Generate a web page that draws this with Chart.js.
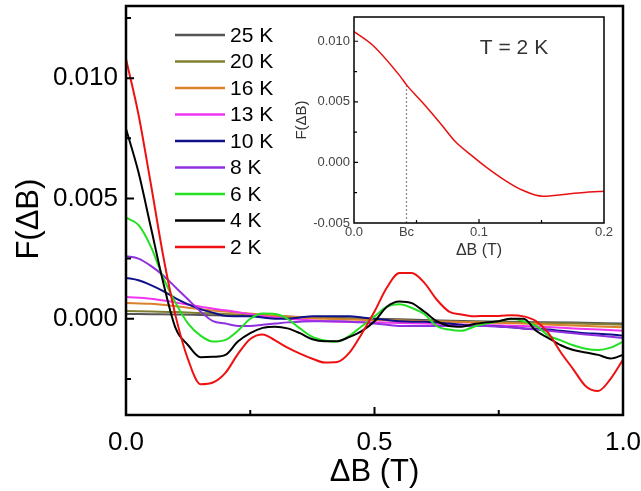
<!DOCTYPE html>
<html>
<head>
<meta charset="utf-8">
<script src="https://cdn.jsdelivr.net/npm/chart.js@4.4.1/dist/chart.umd.min.js"></script>
<style>
  html, body { margin: 0; padding: 0; background: #fff; }
  #wrap { position: relative; width: 641px; height: 491px; }
  #main { position: absolute; left: 0; top: 0; }
  #inset { position: absolute; left: 280px; top: 8px; }
</style>
</head>
<body>
<div id="wrap">
  <canvas id="main" width="641" height="491"></canvas>
  <canvas id="inset" width="340" height="260"></canvas>
</div>
<script>
// ΔB grid (T) for the low-temperature curves
const dB = [0, 0.025, 0.05, 0.075, 0.1, 0.125, 0.15, 0.175, 0.2, 0.225,
            0.25, 0.275, 0.3, 0.325, 0.35, 0.375, 0.4, 0.425, 0.45, 0.475,
            0.5, 0.525, 0.55, 0.575, 0.6, 0.625, 0.65, 0.675, 0.7, 0.725,
            0.75, 0.775, 0.8, 0.825, 0.85, 0.875, 0.9, 0.925, 0.95, 0.975, 1.0];

const f2K = [0.0108, 0.0085, 0.0056, 0.0026, 0.0001, -0.0017, -0.00272, -0.00265, -0.00225, -0.00147,
             -0.00084, -0.00065, -0.0009, -0.0012, -0.00145, -0.00166, -0.00182, -0.0018, -0.0014, -0.0006,
             0.0003, 0.0013, 0.0019, 0.0019, 0.0015, 0.0008, 0.0003, 0.00018, 0.0001, 0.00012,
             0.00012, 0.00015, 0.0001, -0.0001, -0.0006, -0.0014, -0.0021, -0.0028, -0.003, -0.0025, -0.0017];

const f4K = [0.0079, 0.0061, 0.0038, 0.0015, -0.0004, -0.0011, -0.0016, -0.00158, -0.0015, -0.00095,
             -0.0006, -0.00038, -0.00033, -0.0004, -0.0006, -0.00085, -0.00093, -0.00093, -0.00075, -0.0005,
             -0.0001, 0.0005, 0.00072, 0.00065, 0.0003, -0.0001, -0.0003, -0.00033, -0.00022, -0.00015,
             -0.0001, 0.0, 0.0, -0.0005, -0.0008, -0.0011, -0.0013, -0.0014, -0.0015, -0.00165, -0.0015];

const f6K = [0.0042, 0.0039, 0.0030, 0.0017, 0.00065, -0.0002, -0.0007, -0.00095, -0.00088, -0.0005,
             0.0, 0.00022, 0.0002, 0.0, -0.0004, -0.00075, -0.0009, -0.00095, -0.0007, -0.0003,
             0.0001, 0.0005, 0.0006, 0.00045, 0.0002, -0.0003, -0.00045, -0.0005, -0.00033, -0.0002,
             -0.0001, 0.0, -0.0001, -0.0003, -0.0007, -0.0009, -0.0011, -0.00125, -0.0013, -0.0012, -0.00095];

const f8K = [0.0026, 0.0025, 0.0022, 0.0018, 0.0013, 0.0008, 0.0003, -0.0001, -0.0002, -0.0003,
             -0.0003, -0.00025, -0.0002, -0.00015, -0.00012, -0.0001, -0.0001, -0.0001, -0.00012, -0.00015,
             -0.0002, -0.00025, -0.0003, -0.0003, -0.0003, -0.0003, -0.0003, -0.0003, -0.0003, -0.0003,
             -0.00032, -0.00035, -0.0004, -0.00045, -0.0005, -0.00055, -0.0006, -0.00065, -0.0007, -0.00075, -0.0008];

const f10K = [0.0017, 0.0016, 0.0014, 0.00115, 0.00085, 0.0006, 0.0004, 0.00025, 0.00012, 0.0001,
              0.0001, 0.00005, 0.0, 0.0, 0.00005, 0.0001, 0.0001, 0.0001, 0.0001, 0.00005,
              0.0, -0.00005, -0.0001, -0.00012, -0.00012, -0.00015, -0.0002, -0.00025, -0.0003, -0.0003,
              -0.00032, -0.00035, -0.0004, -0.00042, -0.00045, -0.0005, -0.00055, -0.0006, -0.00062, -0.00065, -0.0007];

// coarser grid for the nearly flat high-temperature curves
const dBCoarse = [0, 0.05, 0.1, 0.15, 0.2, 0.3, 0.4, 0.5, 0.6, 0.7, 0.8, 0.9, 1.0];
const f13K = [0.0009, 0.00083, 0.00068, 0.0005, 0.00035, 0.00005, -0.0001, -0.00015, -0.0002, -0.00025, -0.0003, -0.0004, -0.0005];
const f16K = [0.00066, 0.00062, 0.00052, 0.0004, 0.0003, 0.00013, 0.0, -0.00005, -0.0001, -0.00015, -0.0002, -0.00028, -0.00035];
const f20K = [0.00032, 0.0003, 0.00028, 0.00024, 0.0002, 0.0001, 0.00003, -0.00003, -0.0001, -0.00013, -0.00017, -0.0002, -0.00025];
const f25K = [0.0002, 0.00019, 0.00018, 0.00016, 0.00014, 0.0001, 0.00005, 0.0, -0.00005, -0.0001, -0.00013, -0.00016, -0.0002];

// inset: T = 2 K over 0 – 0.2 T
const dBInset = [0, 0.015, 0.037, 0.042, 0.055, 0.07, 0.081, 0.093, 0.106, 0.122, 0.135, 0.151, 0.17, 0.186, 0.2];
const fInset  = [0.0108, 0.00967, 0.0071, 0.0064, 0.00492, 0.00311, 0.00172, 0.00066, -0.00041, -0.00156, -0.0023, -0.00279, -0.00262, -0.00246, -0.00238];
const BC = 0.042;
const BC_F = 0.0064;

// axis ticks
const X_TICKS = [0, 0.5, 1.0];
const X_MINOR = [0.25, 0.75];
const Y_TICKS = [0, 0.005, 0.010];
const Y_MINOR = [-0.0025, 0.0025, 0.0075, 0.0125];
const INSET_X_TICKS = [0, BC, 0.1, 0.2];
const INSET_X_MAJOR = [0.1];
const INSET_X_MINOR = [0.05, 0.15];
const INSET_Y_TICKS = [-0.005, 0, 0.005, 0.010];
const INSET_Y_MAJOR = [0, 0.005, 0.010];
const INSET_Y_MINOR = [-0.0025, 0.0025, 0.0075];

const FONT = "'Liberation Sans', Arial, Helvetica, sans-serif";
Chart.defaults.font.family = FONT;
Chart.defaults.color = '#000';

const pts = (xs, ys) => xs.map((x, i) => ({ x: x, y: ys[i] }));

// first entry is drawn on top
const series = [
  { label: '2 K',  data: pts(dB, f2K),        color: '#ee1111' },
  { label: '4 K',  data: pts(dB, f4K),        color: '#000000' },
  { label: '6 K',  data: pts(dB, f6K),        color: '#22e022' },
  { label: '8 K',  data: pts(dB, f8K),        color: '#9030e0' },
  { label: '10 K', data: pts(dB, f10K),       color: '#10108a' },
  { label: '13 K', data: pts(dBCoarse, f13K), color: '#f035f0' },
  { label: '16 K', data: pts(dBCoarse, f16K), color: '#d9822b' },
  { label: '20 K', data: pts(dBCoarse, f20K), color: '#808030' },
  { label: '25 K', data: pts(dBCoarse, f25K), color: '#555555' }
];

// keep the plot area fixed: no extra room for overhanging tick labels
const fixW = w => s => { s.width = w; s.paddingTop = 0; s.paddingBottom = 0; };
const fixH = h => s => { s.height = h; s.paddingLeft = 0; s.paddingRight = 0; };

// boxed frame with inward tick marks
const frameTicks = {
  id: 'frameTicks',
  afterDatasetsDraw(chart, args, o) {
    const { ctx, chartArea: a } = chart;
    const xs = chart.scales.x, ys = chart.scales.y;
    ctx.save();
    ctx.strokeStyle = '#000';
    ctx.lineWidth = o.tickWidth;
    ctx.beginPath();
    const xt = (vals, len) => vals.forEach(v => {
      const px = xs.getPixelForValue(v);
      ctx.moveTo(px, a.bottom); ctx.lineTo(px, a.bottom - len);
    });
    const yt = (vals, len) => vals.forEach(v => {
      const py = ys.getPixelForValue(v);
      ctx.moveTo(a.left, py); ctx.lineTo(a.left + len, py);
    });
    xt(o.xMajor, o.major); xt(o.xMinor, o.minor);
    yt(o.yMajor, o.major); yt(o.yMinor, o.minor);
    ctx.stroke();
    ctx.lineWidth = o.frame;
    ctx.strokeRect(a.left, a.top, a.right - a.left, a.bottom - a.top);
    ctx.restore();
  }
};

// temperature key, listed from the highest temperature down
const tempKey = {
  id: 'tempKey',
  afterDraw(chart, args, o) {
    const ctx = chart.ctx;
    const sets = chart.data.datasets.slice().reverse();
    ctx.save();
    ctx.font = o.size + 'px ' + FONT;
    ctx.textBaseline = 'middle';
    ctx.textAlign = 'left';
    ctx.fillStyle = '#000';
    sets.forEach((ds, i) => {
      const y = o.top + i * o.step;
      ctx.strokeStyle = ds.borderColor;
      ctx.lineWidth = o.lineWidth;
      ctx.beginPath();
      ctx.moveTo(o.x0, y); ctx.lineTo(o.x1, y);
      ctx.stroke();
      ctx.fillText(ds.label, o.textX, y + 1);
    });
    ctx.restore();
  }
};

// free text label inside a chart
const noteText = {
  id: 'noteText',
  afterDraw(chart, args, o) {
    const ctx = chart.ctx;
    ctx.save();
    ctx.font = o.size + 'px ' + FONT;
    ctx.fillStyle = o.color;
    ctx.textAlign = 'center';
    ctx.textBaseline = 'middle';
    ctx.fillText(o.text, o.x, o.y);
    ctx.restore();
  }
};

new Chart(document.getElementById('main'), {
  type: 'line',
  data: {
    datasets: series.map(s => ({
      label: s.label, data: s.data, borderColor: s.color, backgroundColor: s.color,
      borderWidth: 2, pointRadius: 0, fill: false, cubicInterpolationMode: 'monotone'
    }))
  },
  plugins: [frameTicks, tempKey],
  options: {
    responsive: false,
    animation: false,
    devicePixelRatio: 1,
    layout: { padding: { left: 0, top: 6, right: 18, bottom: 0 } },
    plugins: {
      legend: { display: false },
      tooltip: { enabled: false },
      frameTicks: { xMajor: X_TICKS, xMinor: X_MINOR, yMajor: Y_TICKS, yMinor: Y_MINOR,
                    major: 8, minor: 5, tickWidth: 2, frame: 2.5 },
      tempKey: { x0: 175, x1: 225, textX: 230, top: 35, step: 26.5, size: 21, lineWidth: 2.5 }
    },
    scales: {
      x: {
        type: 'linear', min: 0, max: 1,
        afterBuildTicks: s => { s.ticks = X_TICKS.map(v => ({ value: v })); },
        afterFit: fixH(76),
        grid: { display: false, drawTicks: false },
        border: { display: false },
        ticks: { padding: 12, color: '#000', font: { size: 26 }, maxRotation: 0, autoSkip: false,
                 callback: v => Number(v).toFixed(1) },
        title: { display: true, text: 'ΔB (T)', color: '#000', font: { size: 31 },
                 padding: { top: 0, bottom: 0 } }
      },
      y: {
        type: 'linear', min: -0.004, max: 0.013,
        afterBuildTicks: s => { s.ticks = Y_TICKS.map(v => ({ value: v })); },
        afterFit: fixW(126),
        grid: { display: false, drawTicks: false },
        border: { display: false },
        ticks: { padding: 8, color: '#000', font: { size: 26 }, autoSkip: false,
                 callback: v => Number(v).toFixed(3) },
        title: { display: true, text: 'F(ΔB)  ', color: '#000', font: { size: 31 },
                 padding: { top: 11, bottom: 0 } }
      }
    }
  }
});

new Chart(document.getElementById('inset'), {
  type: 'line',
  data: {
    datasets: [
      { label: '2 K', data: pts(dBInset, fInset), borderColor: '#e81010', borderWidth: 1.5,
        pointRadius: 0, fill: false, cubicInterpolationMode: 'monotone' },
      { label: 'Bc', data: [{ x: BC, y: -0.005 }, { x: BC, y: BC_F }], borderColor: '#888',
        borderWidth: 1.2, borderDash: [2, 2], pointRadius: 0, fill: false }
    ]
  },
  plugins: [frameTicks, noteText],
  options: {
    responsive: false,
    animation: false,
    devicePixelRatio: 1,
    layout: { padding: { left: 0, top: 9, right: 16, bottom: 0 } },
    plugins: {
      legend: { display: false },
      tooltip: { enabled: false },
      frameTicks: { xMajor: INSET_X_MAJOR, xMinor: INSET_X_MINOR, yMajor: INSET_Y_MAJOR, yMinor: INSET_Y_MINOR,
                    major: 4, minor: 3, tickWidth: 1.2, frame: 1.5 },
      noteText: { text: 'T = 2 K', x: 234, y: 40, size: 21, color: '#333' }
    },
    scales: {
      x: {
        type: 'linear', min: 0, max: 0.2,
        afterBuildTicks: s => { s.ticks = INSET_X_TICKS.map(v => ({ value: v })); },
        afterFit: fixH(45),
        grid: { display: false, drawTicks: false },
        border: { display: false },
        ticks: { padding: 2, color: '#444', font: { size: 13 }, maxRotation: 0, autoSkip: false,
                 callback: v => (v === BC ? 'Bc' : Number(v).toFixed(1)) },
        title: { display: true, text: 'ΔB (T)', color: '#333', font: { size: 16 },
                 padding: { top: 0, bottom: 8 } }
      },
      y: {
        type: 'linear', min: -0.005, max: 0.012,
        afterBuildTicks: s => { s.ticks = INSET_Y_TICKS.map(v => ({ value: v })); },
        afterFit: fixW(74),
        grid: { display: false, drawTicks: false },
        border: { display: false },
        ticks: { padding: 4, color: '#444', font: { size: 13 }, autoSkip: false,
                 callback: v => Number(v).toFixed(3) },
        title: { display: true, text: 'F(ΔB)', color: '#333', font: { size: 15 },
                 padding: { top: 13, bottom: 0 } }
      }
    }
  }
});
</script>
</body>
</html>
